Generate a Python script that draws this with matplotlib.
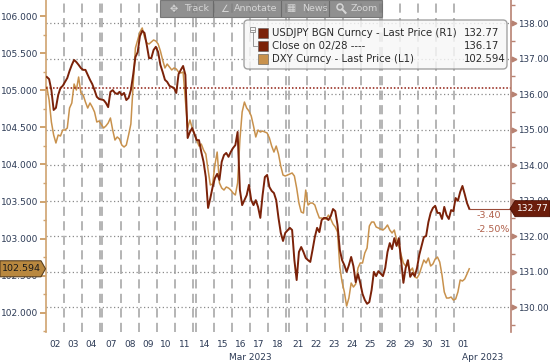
import matplotlib
matplotlib.use("Agg")
import matplotlib.pyplot as plt
from matplotlib.transforms import blended_transform_factory, IdentityTransform, ScaledTranslation
from matplotlib.patches import FancyBboxPatch, Polygon, Rectangle, Circle
from matplotlib.lines import Line2D

# ---------------- data ----------------
day_labels = ["02", "03", "04", "07", "08", "09", "10", "11", "14", "15", "16", "17",
              "18", "21", "22", "23", "24", "25", "28", "29", "30", "31", "01"]
month_labels = ["Mar 2023", "Apr 2023"]

usdjpy = [
    [136.48, 136.42, 136.11, 135.55, 135.61, 135.97, 136.17, 136.23],
    [136.34, 136.45, 136.65, 136.82, 136.96, 136.90, 136.82, 136.73],
    [136.68, 136.68, 136.54, 136.40, 136.28, 136.11, 135.92, 135.86],
    [135.83, 135.75, 135.63, 136.06, 136.11, 136.03, 136.00, 136.06],
    [135.97, 136.03, 135.83, 135.89, 136.11, 136.54, 137.04, 137.18],
    [137.63, 137.78, 137.72, 137.38, 137.01, 137.01, 137.24, 137.33],
    [137.18, 136.82, 136.62, 136.40, 136.34, 136.23, 136.20, 136.17],
    [136.03, 136.56, 136.68, 136.79, 136.54, 134.76, 134.93, 135.04],
    [134.70, 134.70, 134.37, 134.09, 133.66, 132.79, 133.07, 133.38],
    [133.63, 133.75, 133.58, 134.09, 134.28, 134.34, 134.23, 134.37],
    [134.48, 134.56, 134.93, 133.30, 132.87, 133.01, 133.15, 133.44],
    [133.01, 132.87, 133.01, 132.82, 132.51, 133.15, 133.66, 133.72],
    [133.38, 133.27, 133.21, 133.01, 132.51, 132.09, 131.86, 132.09],
    [132.23, 132.17, 131.32, 130.76, 131.55, 131.69, 131.55, 131.38],
    [131.32, 131.27, 131.61, 131.97, 132.23, 132.11, 132.45, 132.51],
    [132.51, 132.45, 132.56, 132.76, 132.70, 132.31, 131.61, 131.32],
    [131.18, 130.99, 131.18, 131.41, 131.15, 130.70, 130.93, 130.68],
    [130.37, 130.20, 130.09, 130.14, 130.48, 130.99, 130.87, 131.01],
    [130.87, 131.10, 131.55, 131.80, 131.63, 131.94, 131.72, 131.94],
    [131.32, 130.68, 131.10, 131.32, 130.85, 130.96, 130.87, 131.10],
    [131.47, 131.72, 131.97, 132.00, 132.39, 132.65, 132.79, 132.85],
    [132.65, 132.65, 132.48, 132.82, 132.59, 132.48, 132.73, 132.70],
    [133.07, 132.99, 133.24, 133.41, 133.18, 132.93, 132.77],
]

dxy = [
    [105.044, 104.868, 104.572, 104.397, 104.289, 104.397, 104.383, 104.464],
    [104.464, 104.491, 104.760, 104.828, 105.084, 105.003, 105.178, 104.963],
    [104.936, 104.841, 104.760, 104.828, 104.774, 104.707, 104.572, 104.585],
    [104.491, 104.518, 104.558, 104.626, 104.464, 104.329, 104.370, 104.343],
    [104.262, 104.235, 104.262, 104.397, 104.545, 105.070, 105.569, 105.677],
    [105.785, 105.839, 105.717, 105.637, 105.623, 105.650, 105.677, 105.663],
    [105.623, 105.529, 105.407, 105.300, 105.353, 105.313, 105.273, 105.300],
    [105.286, 105.246, 105.232, 105.246, 104.868, 104.491, 104.599, 104.491],
    [104.329, 104.248, 104.275, 104.194, 104.141, 103.925, 103.723, 103.736],
    [103.992, 104.167, 103.750, 103.682, 103.655, 103.696, 103.682, 103.655],
    [103.615, 103.588, 103.750, 104.329, 104.707, 104.841, 104.760, 104.720],
    [104.653, 104.518, 104.370, 104.464, 104.437, 104.450, 104.437, 104.424],
    [104.356, 104.248, 104.167, 104.248, 104.141, 103.979, 103.857, 103.844],
    [103.871, 103.885, 103.844, 103.682, 103.480, 103.359, 103.345, 103.655],
    [103.453, 103.480, 103.480, 103.453, 103.359, 103.278, 103.278, 103.265],
    [103.265, 103.318, 103.265, 103.197, 103.157, 103.089, 102.618, 102.416],
    [102.281, 102.092, 102.200, 102.402, 102.348, 102.389, 102.604, 102.672],
    [102.672, 102.806, 102.874, 103.170, 103.224, 103.224, 103.157, 103.143],
    [103.116, 103.143, 103.184, 103.116, 103.076, 103.116, 102.981, 102.901],
    [102.779, 102.672, 102.631, 102.645, 102.564, 102.604, 102.483, 102.469],
    [102.523, 102.618, 102.712, 102.672, 102.739, 102.631, 102.658, 102.725],
    [102.752, 102.685, 102.510, 102.281, 102.200, 102.200, 102.213, 102.173],
    [102.186, 102.281, 102.443, 102.429, 102.456, 102.523, 102.594],
]

close_0228 = 136.17
usdjpy_last = 132.77
dxy_last = 102.594
chg_abs = -3.40
chg_pct = -2.50

left_ticks = [102.0, 102.5, 103.0, 103.5, 104.0, 104.5, 105.0, 105.5, 106.0]
right_ticks = [130, 131, 132, 133, 134, 135, 136, 137, 138]

legend_names = ["USDJPY BGN Curncy - Last Price (R1)", "Close on 02/28 ----",
                "DXY Curncy - Last Price (L1)"]
toolbar_items = ["Track", "Annotate", "News", "Zoom"]
toolbar_icons = ["\u2725", "\u2220", "\u25a6", None]

# ---------------- styling ----------------
C_JPY = "#7b2209"
C_DXY = "#c8914c"
C_CLOSE = "#8e1a0e"
C_TXT = "#2c3a55"
C_LSPINE = "#cfa36f"
C_RSPINE = "#b88272"
C_TB = "#d6d6d6"
SAMPLES = 8
GAP = 0.125
W, H = 550, 363
XMAX = 25.61

# trading-day layout (weekend gaps between non-consecutive dates)
starts = []
pos = 0.0
gap_after = []
for i, lab in enumerate(day_labels):
    starts.append(pos)
    pos += 1.0
    g = i + 1 < len(day_labels) and int(day_labels[i + 1]) - int(lab) > 1
    gap_after.append(g)
    if g:
        pos += GAP

def series_xy(days):
    xs, ys = [], []
    for s, vals in zip(starts, days):
        for j, v in enumerate(vals):
            xs.append(s + (j + 0.5) / SAMPLES)
            ys.append(v)
    return xs, ys

fig = plt.figure(figsize=(W / 100, H / 100), dpi=100)
fig.patch.set_facecolor("white")
ax_l, ax_r, ax_b, ax_t = 45.7, 511.0, 332.0, 0.0
ax = fig.add_axes([ax_l / W, 1 - ax_b / H, (ax_r - ax_l) / W, (ax_b - ax_t) / H])
ax2 = ax.twinx()

ax.set_xlim(0, XMAX)
ax.set_ylim(101.742, 106.216)
ax2.set_ylim(129.296, 138.648)

# grid (right-axis based) drawn on host axes
tr_r = blended_transform_factory(ax.transAxes, ax2.transData)
for v in right_ticks:
    ax.plot([0, 1], [v, v], transform=tr_r, color="#8a8a8a", lw=0.9,
            ls=(0, (1, 2)), zorder=1)

# vertical day separators
vlines = [s for s in starts[1:]]
vlines += [starts[i] + 1.0 for i, g in enumerate(gap_after) if g]
for xv in vlines:
    ax.axvline(xv, color="#a0a0a0", lw=1.1, ls=(0, (6, 3.5)), zorder=1)

# series
xd, yd = series_xy(dxy)
ax.plot(xd, yd, color=C_DXY, lw=1.1, zorder=3)
xj, yj = series_xy(usdjpy)
ax2.axhline(close_0228, color=C_CLOSE, lw=1.1, ls=(0, (1, 1.3)), zorder=2)
ax2.plot(xj, yj, color=C_JPY, lw=1.4, zorder=3)
ax2.plot([xj[-1], XMAX], [usdjpy_last, usdjpy_last], color="#9a4a38", lw=0.8, zorder=3)

# spines
for a in (ax, ax2):
    a.spines["top"].set_visible(False)
    a.spines["bottom"].set_visible(False)
ax.spines["right"].set_visible(False)
ax2.spines["left"].set_visible(False)
ax.spines["left"].set_color(C_LSPINE)
ax.spines["left"].set_linewidth(1.2)
ax2.spines["right"].set_color(C_RSPINE)
ax2.spines["right"].set_linewidth(1.2)

# left axis ticks
ax.set_yticks(left_ticks)
ax.set_yticklabels([f"{v:.3f}" for v in left_ticks])
ax.set_yticks([v + 0.25 for v in left_ticks[:-1]] + [101.75], minor=True)
ax.tick_params(axis="y", which="major", direction="out", length=4, width=1.4,
               color=C_LSPINE, labelsize=6.5, labelcolor=C_TXT, pad=1.5)
ax.tick_params(axis="y", which="minor", direction="out", length=2.5, width=1,
               color=C_LSPINE)
# right axis ticks
ax2.set_yticks(right_ticks)
ax2.set_yticklabels([f"{v:.2f}" for v in right_ticks])
ax2.set_yticks([v + 0.5 for v in right_ticks] + [129.5], minor=True)
ax2.tick_params(axis="y", which="major", direction="out", length=3, width=1,
                color=C_RSPINE, labelsize=6.3, labelcolor=C_TXT, pad=1.8)
ax2.tick_params(axis="y", which="minor", direction="out", length=3, width=1,
                color=C_RSPINE)
tr_rm = blended_transform_factory(ax2.transAxes, ax2.transData)
ax2.plot([1.0] * len(right_ticks), right_ticks, ls="none", marker=">", ms=3.4,
         color=C_RSPINE, transform=tr_rm + ScaledTranslation(3 / 100, 0, fig.dpi_scale_trans),
         clip_on=False, zorder=5)

# x ticks at day centres
ax.set_xticks([s + 0.5 for s in starts])
ax.set_xticklabels(day_labels)
ax.tick_params(axis="x", length=0, labelsize=6.5, labelcolor=C_TXT, pad=6)
ax2.tick_params(axis="x", length=0)

# month labels, centred on each month's visible span
split = day_labels.index("01")
mar_c = (0 + starts[split]) / 2
apr_c = (starts[split] + XMAX) / 2
trm = blended_transform_factory(ax.transData, IdentityTransform())
for xc, lab in zip([mar_c, apr_c], month_labels):
    ax.text(xc, H - 357, lab, transform=trm, ha="center", va="center",
            fontsize=6.5, color=C_TXT, clip_on=False)

fig.canvas.draw()
ID = IdentityTransform()

def P(x, y):
    return (x, H - y)

# ---- toolbar ----
fig.patches.append(Rectangle(P(160, 17), 222, 17, transform=ID, facecolor="#7d7d7d",
                             edgecolor="#6a6a6a", lw=0.8, alpha=0.85, zorder=6))
tb_x = [(170, 184), (220, 234), (286, 302), (336, 351)]
seps = [213, 281, 329]
for (ix, tx), ic, name in zip(tb_x, toolbar_icons, toolbar_items):
    if ic is not None:
        fig.text(*P(ix, 8.5), ic, transform=ID, fontsize=7, color=C_TB,
                 va="center", ha="left", zorder=7)
    fig.text(*P(tx, 8.5), name, transform=ID, fontsize=6.8, color=C_TB,
             va="center", ha="left", zorder=7)
# magnifier icon for "Zoom"
fig.patches.append(Circle(P(340, 7), 3.0, transform=ID, facecolor="none",
                          edgecolor=C_TB, lw=1.1, zorder=7))
fig.lines.append(Line2D([342.2, 345.5], [H - 9.2, H - 12.8], transform=ID, color=C_TB,
                        lw=1.5, zorder=7))
for sx in seps:
    fig.lines.append(Line2D([sx, sx], [H - 1, H - 16], transform=ID, color="#6a6a6a", lw=0.8, zorder=7))

# ---- legend ----
fig.patches.append(FancyBboxPatch(P(244, 69), 263, 49, boxstyle="round,pad=0,rounding_size=4",
                                  transform=ID, facecolor="#f7f7f7", edgecolor="#8f8f8f",
                                  lw=1.0, alpha=0.82, zorder=6))
rows_y = [33, 46, 59]
sw_cols = [C_JPY, C_JPY, C_DXY]
vals_txt = [f"{usdjpy_last:.2f}", f"{close_0228:.2f}", f"{dxy_last:.3f}"]
for ry, name, col, vt in zip(rows_y, legend_names, sw_cols, vals_txt):
    fig.patches.append(Rectangle(P(258, ry + 5), 10, 10, transform=ID, facecolor=col,
                                 edgecolor="#555555", lw=0.4, zorder=7))
    fig.text(*P(272, ry), name, transform=ID, fontsize=7.3, color="#2a2a2a",
             va="center", ha="left", zorder=8)
    fig.text(*P(464, ry), vt, transform=ID, fontsize=7.3, color="#2a2a2a",
             va="center", ha="left", zorder=8)
# tree icon
fig.patches.append(Rectangle(P(250, 32), 5, 5, transform=ID, facecolor="none",
                             edgecolor="#8a8a8a", lw=0.6, zorder=7))
fig.lines.append(Line2D([251, 254], [H - 29.5, H - 29.5], transform=ID, color="#8a8a8a", lw=0.6, zorder=7))
fig.lines.append(Line2D([252.5, 252.5, 257], [H - 32, H - 46, H - 46], transform=ID, color="#8a8a8a", lw=0.6, zorder=7))

# ---- value tags ----
yj_px = ax2.transData.transform((0, usdjpy_last))[1]
fig.patches.append(Polygon([(510, yj_px), (515, yj_px + 8), (550, yj_px + 8), (550, yj_px - 8),
                            (515, yj_px - 8)], closed=True, transform=ID,
                           facecolor="#6b1d0b", edgecolor="#4a1005", lw=0.6, zorder=9))
fig.text(532.5, yj_px, f"{usdjpy_last:.2f}", transform=ID, fontsize=6.6, color="white",
         ha="center", va="center", zorder=10)

yd_px = ax.transData.transform((0, dxy_last))[1]
fig.patches.append(Polygon([(0, yd_px + 8), (41, yd_px + 8), (45.5, yd_px), (41, yd_px - 8),
                            (0, yd_px - 8)], closed=True, transform=ID,
                           facecolor="#b9883f", edgecolor="#5a4020", lw=0.8, zorder=9))
fig.text(21, yd_px, f"{dxy_last:.3f}", transform=ID, fontsize=6.8, color="#1a1a1a",
         ha="center", va="center", zorder=10)

# change annotations
fig.text(477, yj_px - 7, f"{chg_abs:.2f}", transform=ID, fontsize=6.8, color="#b0604a",
         ha="left", va="center", zorder=10)
fig.text(477, yj_px - 21, f"{chg_pct:.2f}%", transform=ID, fontsize=6.8, color="#b0604a",
         ha="left", va="center", zorder=10)

fig.savefig("out.png", dpi=100)
